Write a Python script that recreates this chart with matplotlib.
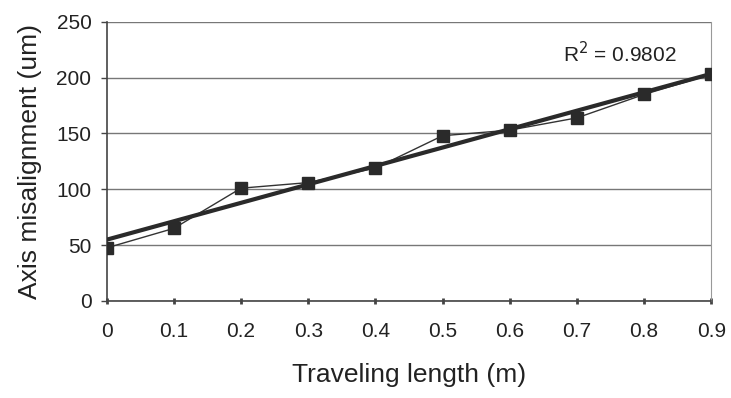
import numpy as np
import matplotlib.pyplot as plt

plt.rcParams['font.family'] = ['Liberation Sans', 'DejaVu Sans']

length = [0, 0.1, 0.2, 0.3, 0.4, 0.5, 0.6, 0.7, 0.8, 0.9]
misalignment = [47.5, 65, 101, 106, 119, 148, 153, 164, 185, 203]
x_labels = ['0', '0.1', '0.2', '0.3', '0.4', '0.5', '0.6', '0.7', '0.8', '0.9']
r2_text = 'R$^2$ = 0.9802'

fig = plt.figure(figsize=(7.31, 3.98), dpi=100)
ax = fig.add_axes([0.146, 0.244, 0.827, 0.701])

x = np.array(length)
y = np.array(misalignment)
slope, intercept = np.polyfit(x, y, 1)

ax.plot(x, y, color='#333333', lw=1.0, marker='s', markersize=9,
        markerfacecolor='#2a2a2a', markeredgecolor='#2a2a2a', zorder=3)
ax.plot(x, slope * x + intercept, color='#2a2a2a', lw=3.0, zorder=4)

ax.set_xlim(0, 0.9)
ax.set_ylim(0, 250)
ax.set_yticks(range(0, 251, 50))
ax.set_xticks(length)
ax.set_xticklabels(x_labels)
ax.yaxis.grid(True, color='#777777', lw=1.0)
ax.set_axisbelow(True)

ax.spines['top'].set_visible(False)
ax.spines['right'].set_color('#999999')
ax.spines['right'].set_linewidth(0.8)
ax.spines['left'].set_color('#444444')
ax.spines['bottom'].set_color('#444444')
ax.spines['left'].set_linewidth(1.2)
ax.spines['bottom'].set_linewidth(1.2)

ax.tick_params(axis='x', direction='inout', length=4, width=2, color='#444444',
               pad=13, labelsize=15, labelcolor='#222222')
ax.tick_params(axis='y', direction='out', length=4, width=1, color='#444444',
               pad=7, labelsize=15, labelcolor='#222222')

ax.set_xlabel('Traveling length (m)', fontsize=19, color='#222222', labelpad=16)
ax.set_ylabel('Axis misalignment (um)', fontsize=19, color='#222222', labelpad=10)

ax.text(0.68, 222, r2_text, fontsize=15, color='#222222', ha='left', va='center')

fig.savefig('out.png', dpi=100)
